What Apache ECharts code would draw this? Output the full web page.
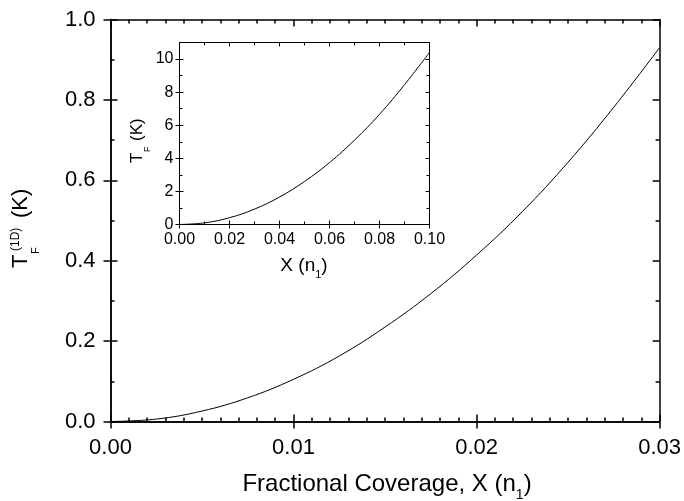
<!DOCTYPE html>
<html>
<head>
<meta charset="utf-8">
<script src="https://cdn.jsdelivr.net/npm/echarts@6/dist/echarts.min.js"></script>
<style>
  html, body { margin: 0; padding: 0; background: #fff; }
  #chart { width: 684px; height: 501px; }
</style>
</head>
<body>
<div id="chart"></div>
<script>
// main panel: T_F^(1D) vs fractional coverage
const mainX = [0, 0.0025, 0.005, 0.0075, 0.01, 0.0125, 0.015, 0.0175, 0.02, 0.0225, 0.025, 0.0275, 0.03]
const mainT = [0, 0.006, 0.026, 0.059, 0.105, 0.163, 0.235, 0.318, 0.414, 0.522, 0.645, 0.782, 0.93]
// inset: T_F vs X
const insetX = [0, 0.01, 0.02, 0.03, 0.04, 0.05, 0.06, 0.07, 0.08, 0.09, 0.1]
const insetT = [0, 0.1, 0.41, 0.93, 1.66, 2.6, 3.74, 5.1, 6.66, 8.45, 10.4]

const font = 'Liberation Sans, Arial, sans-serif'
const chart = echarts.init(document.getElementById('chart'))

// one helper for all the axis copies (labels / inner ticks / mirror side)
function axis (grid, pos, opt) {
  const a = {
    gridIndex: grid,
    type: 'value',
    position: pos,
    min: opt.min,
    max: opt.max,
    interval: opt.interval,
    splitLine: { show: false },
    axisLine: { show: true, onZero: false, lineStyle: { color: '#000', width: opt.lw } },
    axisTick: { show: true, inside: opt.inside, length: opt.tick, lineStyle: { color: '#000', width: opt.lw } },
    minorTick: { show: !!opt.minor, splitNumber: opt.minor || 5, length: opt.minorLen, lineStyle: { color: '#000', width: opt.lw } },
    axisLabel: { show: false }
  }
  if (opt.labels) {
    a.axisLabel = {
      show: true,
      color: '#000',
      fontFamily: font,
      fontSize: opt.fs,
      margin: opt.margin,
      showMaxLabel: opt.showMax !== false,
      formatter: v => v.toFixed(opt.digits)
    }
  }
  return a
}

const mx = { min: 0, max: 0.03, interval: 0.01, lw: 1.5, tick: 7, minor: 10, minorLen: 4 }
const my = { min: 0, max: 1, interval: 0.2, lw: 1.5, tick: 7, minor: 2, minorLen: 4 }
const ix = { min: 0, max: 0.1, interval: 0.02, lw: 1, tick: 4, minor: 2, minorLen: 3 }
const iy = { min: 0, max: 11, interval: 2, lw: 1, tick: 4, minor: 2, minorLen: 3 }

chart.setOption({
  animation: false,
  backgroundColor: '#fff',
  grid: [
    { left: 110.5, top: 19.5, width: 551, height: 402 },
    { left: 179.5, top: 42.5, width: 250, height: 182, show: true, backgroundColor: '#fff', borderWidth: 0 }
  ],
  xAxis: [
    axis(0, 'bottom', { ...mx, inside: false, minor: 0, labels: true, fs: 22, margin: 15, digits: 2 }),
    axis(0, 'bottom', { ...mx, inside: true }),
    axis(0, 'top', { ...mx, inside: true }),
    axis(1, 'bottom', { ...ix, inside: false, minor: 0, labels: true, fs: 16, margin: 7, digits: 2 }),
    axis(1, 'bottom', { ...ix, inside: true }),
    axis(1, 'top', { ...ix, inside: true })
  ],
  yAxis: [
    axis(0, 'left', { ...my, inside: false, minor: 0, labels: true, fs: 22, margin: 15, digits: 1 }),
    axis(0, 'left', { ...my, inside: true }),
    axis(0, 'right', { ...my, inside: true }),
    axis(1, 'left', { ...iy, inside: false, minor: 0, labels: true, fs: 16, margin: 6, digits: 0, showMax: false }),
    axis(1, 'left', { ...iy, inside: true }),
    axis(1, 'right', { ...iy, inside: true })
  ],
  series: [
    {
      type: 'line',
      xAxisIndex: 0,
      yAxisIndex: 0,
      data: mainX.map((x, i) => [x, mainT[i]]),
      smooth: 0.4,
      showSymbol: false,
      lineStyle: { color: '#000', width: 1 }
    },
    {
      type: 'line',
      xAxisIndex: 3,
      yAxisIndex: 3,
      data: insetX.map((x, i) => [x, insetT[i]]),
      smooth: 0.4,
      showSymbol: false,
      lineStyle: { color: '#000', width: 1 }
    }
  ],
  graphic: [
    // x title of main panel
    {
      type: 'text',
      x: 387, y: 484,
      style: {
        text: '{a|Fractional Coverage, X (n}{s|1}{a|)}',
        align: 'center',
        verticalAlign: 'middle',
        rich: {
          a: { fontFamily: font, fontSize: 24, fill: '#000' },
          s: { fontFamily: font, fontSize: 14, fill: '#000', padding: [23, 0, 0, 0] }
        }
      }
    },
    // y title of main panel, rotated
    {
      type: 'group',
      x: 21, y: 268,
      rotation: Math.PI / 2,
      children: [
        { type: 'text', x: 0, y: 0, style: { text: 'T', fontFamily: font, fontSize: 22, fill: '#000', verticalAlign: 'middle' } },
        { type: 'text', x: 14, y: 15, style: { text: 'F', fontFamily: font, fontSize: 11, fill: '#000', verticalAlign: 'middle' } },
        { type: 'text', x: 17, y: -5, style: { text: '(1D)', fontFamily: font, fontSize: 12, fill: '#000', verticalAlign: 'middle' } },
        { type: 'text', x: 50, y: 0, style: { text: '(K)', fontFamily: font, fontSize: 22, fill: '#000', verticalAlign: 'middle' } }
      ]
    },
    // inset titles
    {
      type: 'text',
      x: 304, y: 266,
      style: {
        text: '{a|X (n}{s|1}{a|)}',
        align: 'center',
        verticalAlign: 'middle',
        rich: {
          a: { fontFamily: font, fontSize: 19, fill: '#000' },
          s: { fontFamily: font, fontSize: 11, fill: '#000', padding: [18, 0, 0, 0] }
        }
      }
    },
    {
      type: 'group',
      x: 137, y: 163,
      rotation: Math.PI / 2,
      children: [
        { type: 'text', x: 0, y: 0, style: { text: 'T', fontFamily: font, fontSize: 17, fill: '#000', verticalAlign: 'middle' } },
        { type: 'text', x: 11, y: 11, style: { text: 'F', fontFamily: font, fontSize: 9, fill: '#000', verticalAlign: 'middle' } },
        { type: 'text', x: 22, y: 0, style: { text: '(K)', fontFamily: font, fontSize: 17, fill: '#000', verticalAlign: 'middle' } }
      ]
    }
  ]
})
</script>
</body>
</html>
